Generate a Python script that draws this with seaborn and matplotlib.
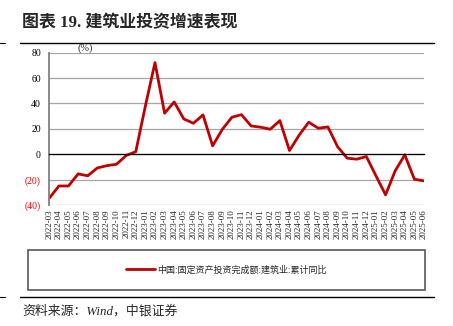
import matplotlib
matplotlib.use("Agg")
import matplotlib.pyplot as plt
from matplotlib.patches import Rectangle
from matplotlib.lines import Line2D
import seaborn as sns
import pandas as pd

months = [
    "2022-03", "2022-04", "2022-05", "2022-06", "2022-07", "2022-08", "2022-09", "2022-10",
    "2022-11", "2022-12", "2023-01", "2023-02", "2023-03", "2023-04", "2023-05", "2023-06",
    "2023-07", "2023-08", "2023-09", "2023-10", "2023-11", "2023-12", "2024-01", "2024-02",
    "2024-03", "2024-04", "2024-05", "2024-06", "2024-07", "2024-08", "2024-09", "2024-10",
    "2024-11", "2024-12", "2025-01", "2025-02", "2025-03", "2025-04", "2025-05", "2025-06",
]
growth = [
    -34.6, -25.0, -25.0, -15.5, -17.0, -10.8, -9.0, -7.9,
    -1.0, 2.0, 38.0, 72.2, 32.3, 41.2, 27.8, 24.4,
    31.0, 6.6, 19.5, 29.1, 31.2, 22.3, 21.3, 19.7,
    26.5, 2.9, 15.0, 25.2, 20.5, 21.5, 6.0, -3.1,
    -3.9, -1.8, -17.0, -32.0, -13.1, -0.5, -19.7, -21.0,
]
y_ticks = [-40, -20, 0, 20, 40, 60, 80]
y_labels = ["(40)", "(20)", "0", "20", "40", "60", "80"]
series_name = "中国:固定资产投资完成额:建筑业:累计同比"
title_text = "图表 19. 建筑业投资增速表现"
source_text = "资料来源：Wind，中银证券"

sns.set_style("white")
plt.rcParams["font.family"] = ["Liberation Serif", "Noto Sans CJK SC", "DejaVu Sans"]

df = pd.DataFrame({"idx": range(len(months)), "value": growth})

fig = plt.figure(figsize=(4.53, 3.26), dpi=100)
ax = fig.add_axes([49.3 / 453, 1 - 205 / 326, (424 - 49.3) / 453, (205 - 52.7) / 326])

sns.lineplot(data=df, x="idx", y="value", ax=ax, color="#C00000", linewidth=2.0,
             label=series_name, legend=False)

ax.set_xlim(0, len(months) - 1)
ax.set_ylim(-40, 80)
ax.set_xlabel("")
ax.set_ylabel("")

# horizontal grid
ax.set_yticks(y_ticks)
ax.set_yticklabels(y_labels)
for t, lab in zip(ax.get_yticklabels(), y_labels):
    t.set_color("#FF0000" if lab.startswith("(") else "#000000")
    t.set_fontsize(7)
ax.tick_params(axis="y", length=0, pad=6)
ax.yaxis.grid(True, color="#A6A6A6", linewidth=0.9)
ax.set_axisbelow(True)

for s in ["top", "right"]:
    ax.spines[s].set_visible(False)
ax.spines["left"].set_color("#808080")
ax.spines["left"].set_linewidth(1.3)

# bottom spine sits on the zero line with tick marks, labels go along the bottom edge
ax.spines["bottom"].set_position(("data", 0))
ax.spines["bottom"].set_color("#000000")
ax.spines["bottom"].set_linewidth(0.9)
ax.set_xticks(range(len(months)))
ax.tick_params(axis="x", direction="out", length=3, width=0.8, color="#000000", labelbottom=False)

sec = ax.secondary_xaxis("bottom")
sec.set_xticks(range(len(months)))
sec.set_xticklabels(months, rotation=90, fontsize=6.5)
sec.tick_params(length=0, pad=3)
sec.spines["bottom"].set_visible(False)

ax.text(0.095, 1.03, "(%)", transform=ax.transAxes, fontsize=7.5, ha="center", va="center")

# title and rules
fig.text(22 / 453, 1 - 23 / 326, title_text, fontsize=12.2, fontweight="bold",
         family=["Liberation Serif", "Noto Sans CJK SC"], ha="left", va="center")
fig.add_artist(Line2D([20 / 453, 434 / 453], [1 - 43 / 326] * 2, color="#000000", linewidth=1.0))
fig.add_artist(Line2D([0, 5 / 453], [1 - 43 / 326] * 2, color="#000000", linewidth=0.8))
fig.add_artist(Line2D([20 / 453, 434 / 453], [1 - 296.5 / 326] * 2, color="#000000", linewidth=1.0))
fig.add_artist(Line2D([0, 5 / 453], [1 - 296.5 / 326] * 2, color="#000000", linewidth=0.8))

# legend box
fig.add_artist(Rectangle((28 / 453, 1 - 290 / 326), (425 - 28) / 453, 40 / 326,
                         fill=False, edgecolor="#595959", linewidth=1.2))
handles, labels = ax.get_legend_handles_labels()
fig.legend(handles, labels, loc="center", bbox_to_anchor=(226.5 / 453, 1 - 270 / 326),
           frameon=False, handlelength=3.2, handletextpad=0.3,
           prop={"family": ["Noto Sans CJK SC"], "size": 6.5})

fig.text(22 / 453, 1 - 311 / 326, source_text, fontsize=9.3, style="italic",
         family=["Liberation Serif", "Noto Sans CJK SC"], ha="left", va="center")

fig.savefig("out.png", dpi=100)
